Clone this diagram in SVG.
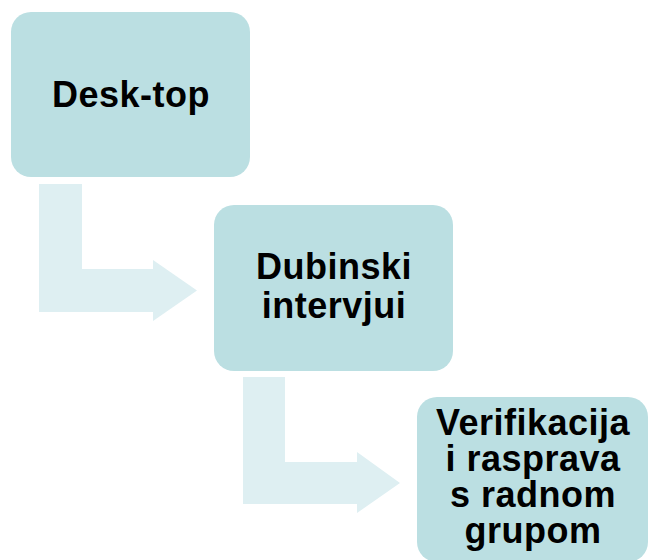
<svg xmlns="http://www.w3.org/2000/svg" width="650" height="560" viewBox="0 0 650 560">
<style>
.box{fill:#BBDFE2;}
.arr{fill:#DEEFF2;}
.lbl{font-family:"Liberation Sans",Arial,sans-serif;font-weight:bold;font-size:36px;fill:#000;text-anchor:middle;letter-spacing:0.5px;}
</style>
<rect width="650" height="560" fill="#FFFFFF"/>
<g id="connectors">
<path class="arr" d="M39,184 H82 V269 H153 V260 L197,290.5 L153,321 V312 H39 Z"/>
<path class="arr" d="M243,377 H285 V462 H357 V452 L400,483 L357,513 V504 H243 Z"/>
</g>
<g id="node-desktop">
<rect class="box" x="11" y="12" width="239" height="165" rx="20" ry="20"/>
<text class="lbl" x="131" y="107">Desk-top</text>
</g>
<g id="node-dubinski">
<rect class="box" x="214" y="205" width="239" height="166" rx="20" ry="20"/>
<text class="lbl" x="334" y="279">Dubinski</text>
<text class="lbl" x="334" y="318">intervjui</text>
</g>
<g id="node-verifikacija">
<rect class="box" x="417" y="397" width="231" height="165" rx="20" ry="20"/>
<text class="lbl" x="533" y="435">Verifikacija</text>
<text class="lbl" x="533" y="471">i rasprava</text>
<text class="lbl" x="533" y="507">s radnom</text>
<text class="lbl" x="533" y="543">grupom</text>
</g>
</svg>
